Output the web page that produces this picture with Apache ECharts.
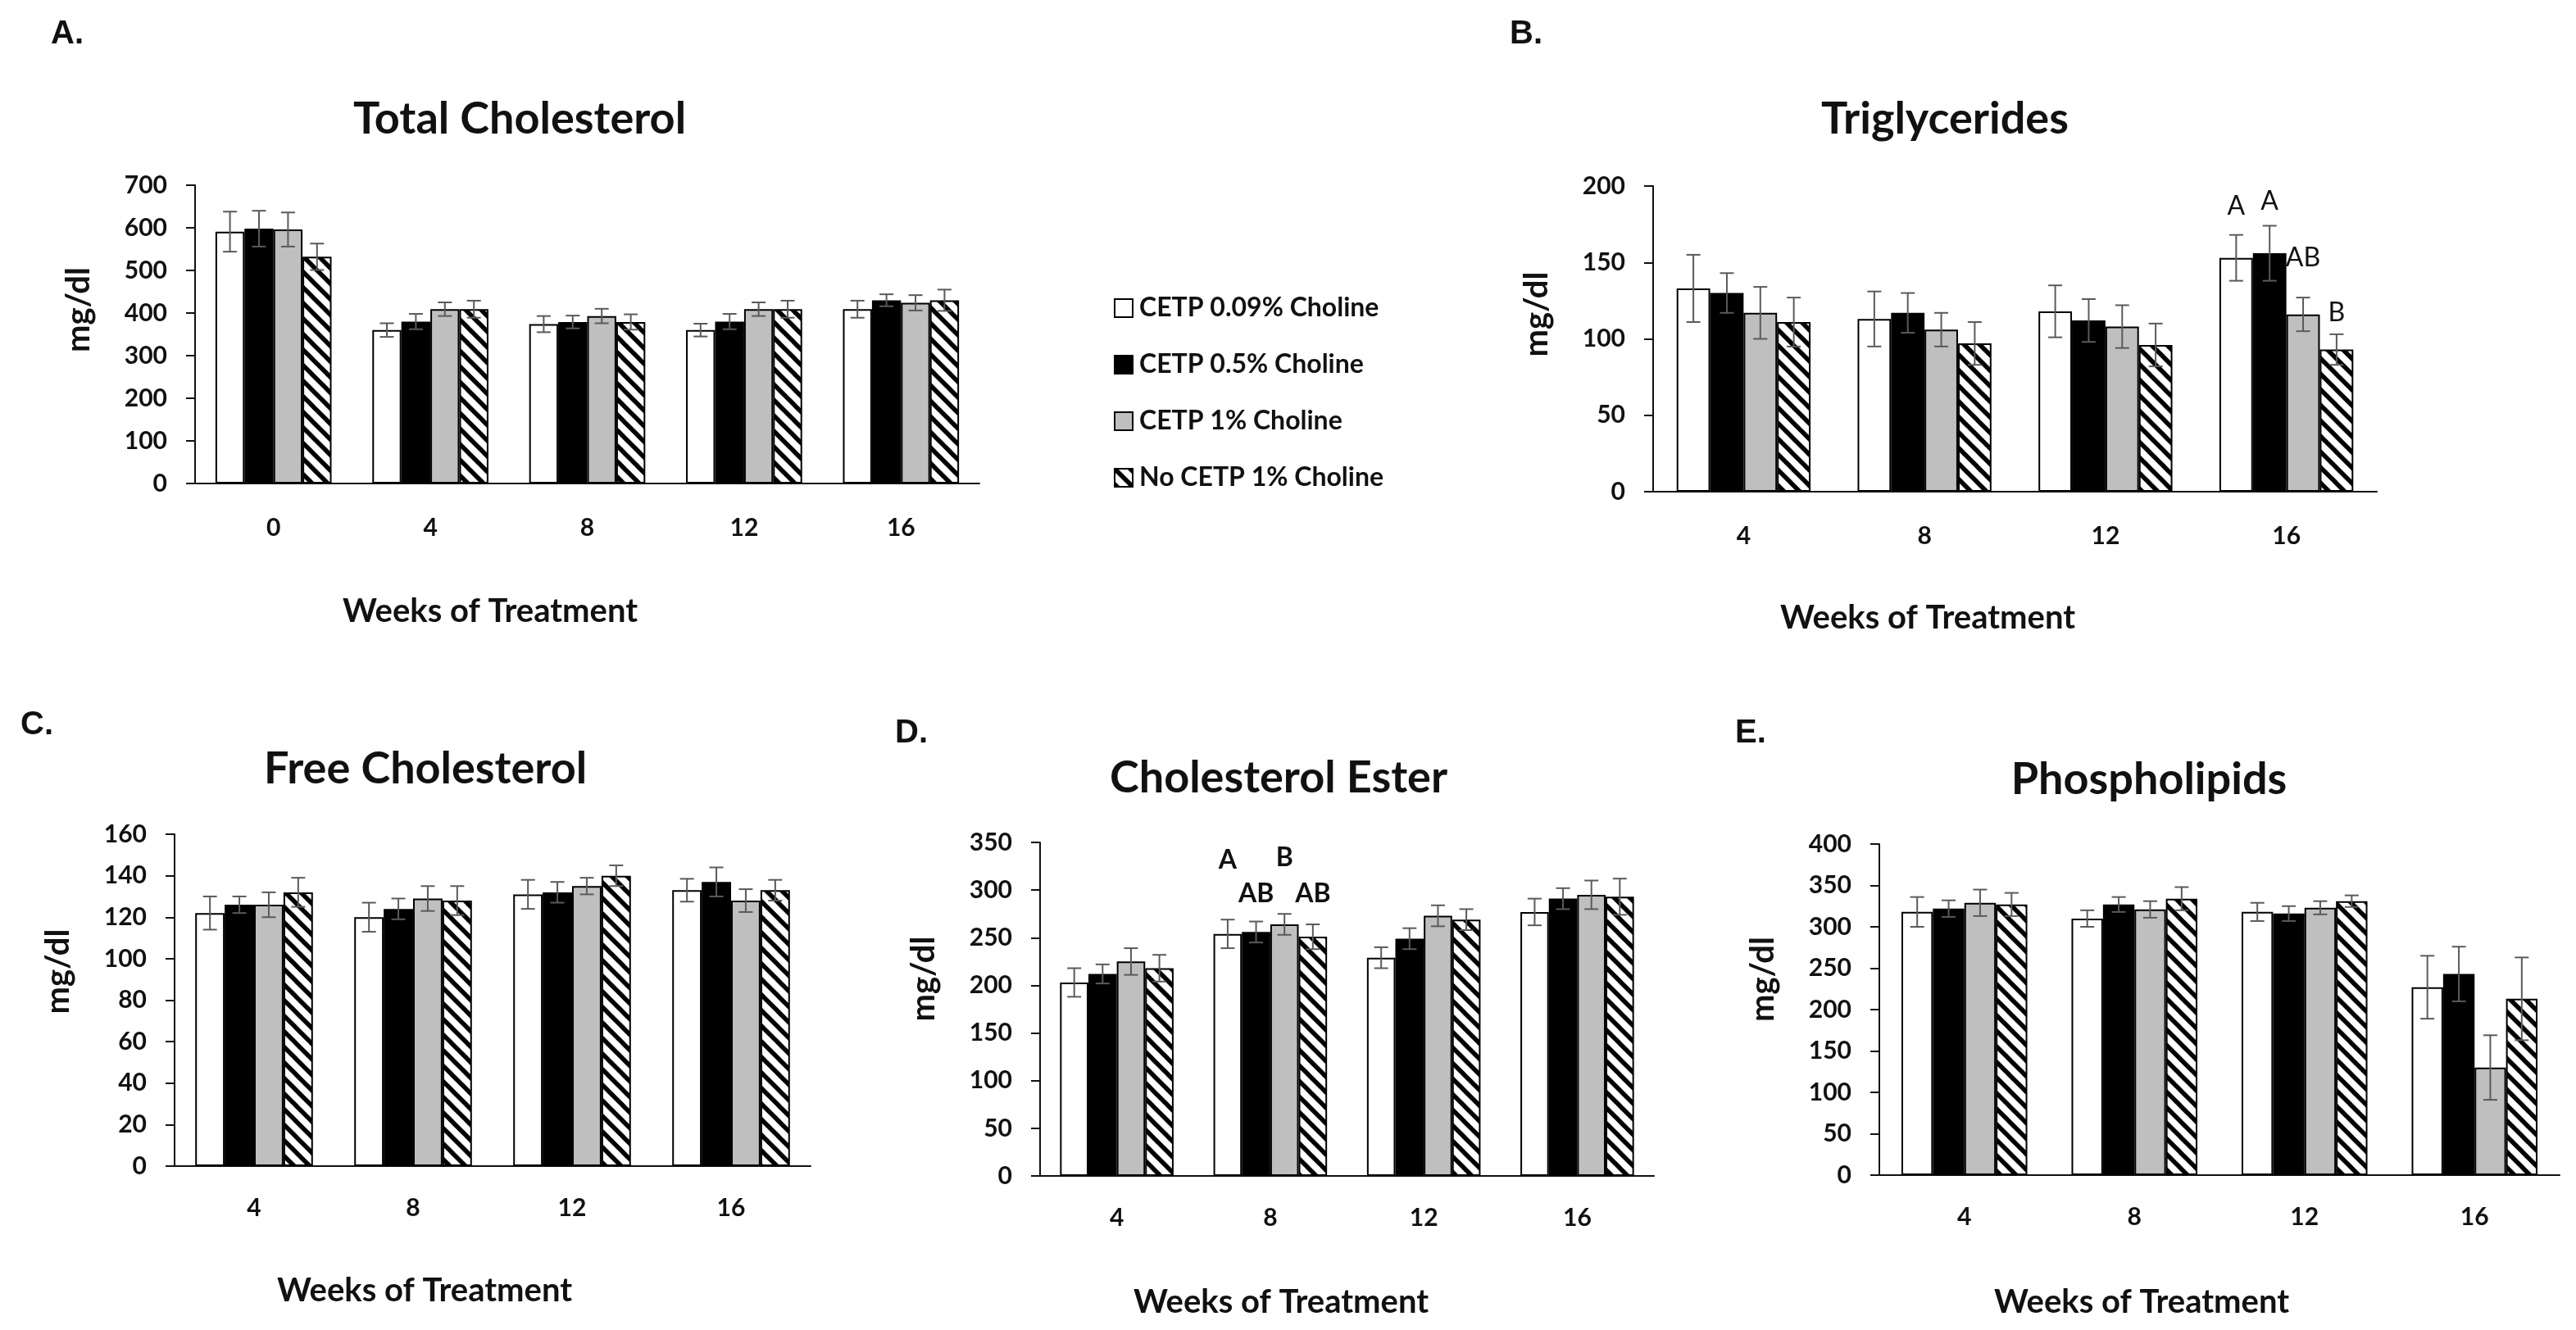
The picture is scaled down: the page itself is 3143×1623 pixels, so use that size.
<!DOCTYPE html>
<html>
<head>
<meta charset="utf-8">
<script src="https://cdn.jsdelivr.net/npm/echarts@6/dist/echarts.min.js"></script>
<style>
html,body{margin:0;padding:0;background:#fff;}
#chart{width:3143px;height:1623px;}
</style>
</head>
<body>
<div id="chart"></div>
<script>
// ---------- data ----------
const groups = ['CETP 0.09% Choline', 'CETP 0.5% Choline', 'CETP 1% Choline', 'No CETP 1% Choline'];
const weeks5 = ['0', '4', '8', '12', '16'];
const weeks4 = ['4', '8', '12', '16'];
const yTicksTC = [0, 700, 100];
const yTicksTG = [0, 200, 50];
const yTicksFC = [0, 160, 20];
const yTicksCE = [0, 350, 50];
const yTicksPL = [0, 400, 50];

// Total Cholesterol (weeks 0,4,8,12,16) - rows: groups
const tcMeans = [
  [591, 360, 374, 360, 409],
  [598, 380, 379, 380, 430],
  [596, 409, 393, 409, 424],
  [532, 409, 379, 409, 430]
];
const tcErrors = [
  [47, 16, 19, 15, 20],
  [42, 18, 15, 18, 14],
  [40, 16, 17, 16, 18],
  [31, 20, 18, 20, 25]
];
// Triglycerides
const tgMeans = [
  [133, 113, 118, 153],
  [130, 117, 112, 156],
  [117, 106, 108, 116],
  [111, 97, 96, 93]
];
const tgErrors = [
  [22, 18, 17, 15],
  [13, 13, 14, 18],
  [17, 11, 14, 11],
  [16, 14, 14, 10]
];
// Free Cholesterol
const fcMeans = [
  [122, 120, 131, 133],
  [126, 124, 132, 137],
  [126, 129, 135, 128],
  [132, 128, 140, 133]
];
const fcErrors = [
  [8, 7, 7, 5.5],
  [4, 5, 5, 7],
  [6, 6, 4, 5.5],
  [7, 7, 5, 5]
];
// Cholesterol Ester
const ceMeans = [
  [203, 254, 229, 277],
  [212, 256, 249, 291],
  [225, 264, 273, 295],
  [218, 251, 269, 293]
];
const ceErrors = [
  [15, 15, 11, 14],
  [10, 11, 11, 11],
  [14, 11, 11, 15],
  [14, 13, 11, 19]
];
// Phospholipids
const plMeans = [
  [318, 310, 318, 227],
  [322, 327, 316, 243],
  [329, 321, 323, 130],
  [327, 334, 331, 213]
];
const plErrors = [
  [18, 10, 11, 38],
  [10, 9, 9, 33],
  [16, 10, 8, 39],
  [14, 14, 7, 50]
];
// significance letters: [category index, group index, value level, text]
const tgLetters = [[3, 0, 187, 'A'], [3, 1, 190, 'A'], [3, 2, 153, 'AB'], [3, 3, 117, 'B']];
const ceLetters = [[1, 0, 331, 'A'], [1, 1, 296, 'AB'], [1, 2, 334, 'B'], [1, 3, 296, 'AB']];

// ---------- styling ----------
const FONT = 'Lato';
const GAP = 0.26;
const pc = document.createElement('canvas');
pc.width = 19; pc.height = 19;
const pg = pc.getContext('2d');
pg.fillStyle = '#fff'; pg.fillRect(0, 0, 19, 19);
pg.strokeStyle = '#000'; pg.lineWidth = 5.5;
for (let k = -1; k <= 1; k++) {
  pg.beginPath(); pg.moveTo(k * 19 - 3, -3); pg.lineTo(k * 19 + 22, 22); pg.stroke();
}
const fills = ['#ffffff', '#000000', '#bfbfbf', { image: pc, repeat: 'repeat' }];

const panels = [
  { key: 'A', title: 'Total Cholesterol', cats: weeks5, means: tcMeans, errs: tcErrors, ticks: yTicksTC,
    grid: { left: 238, top: 226, width: 957, height: 364 }, tpos: [634, 146], lpos: [62, 42], wpos: [598, 746], labMargin: 39, namePad: 60 },
  { key: 'B', title: 'Triglycerides', cats: weeks4, means: tgMeans, errs: tgErrors, ticks: yTicksTG,
    grid: { left: 2017, top: 227, width: 883, height: 373 }, tpos: [2373, 146], lpos: [1842, 42], wpos: [2352, 754], labMargin: 39, namePad: 60,
    letters: tgLetters, letterWeight: 'normal' },
  { key: 'C', title: 'Free Cholesterol', cats: weeks4, means: fcMeans, errs: fcErrors, ticks: yTicksFC,
    grid: { left: 213, top: 1018, width: 776, height: 405 }, tpos: [519, 939], lpos: [25, 885], wpos: [518, 1575], labMargin: 36, namePad: 70 },
  { key: 'D', title: 'Cholesterol Ester', cats: weeks4, means: ceMeans, errs: ceErrors, ticks: yTicksCE,
    grid: { left: 1269, top: 1028, width: 749, height: 407 }, tpos: [1560, 950], lpos: [1092, 895], wpos: [1563, 1589], labMargin: 36, namePad: 74,
    letters: ceLetters, letterWeight: 'bold' },
  { key: 'E', title: 'Phospholipids', cats: weeks4, means: plMeans, errs: plErrors, ticks: yTicksPL,
    grid: { left: 2293, top: 1030, width: 830, height: 404 }, tpos: [2622, 952], lpos: [2117, 895], wpos: [2613, 1589], labMargin: 36, namePad: 74 }
];

const option = {
  animation: false,
  backgroundColor: '#ffffff',
  textStyle: { fontFamily: FONT },
  title: [],
  legend: {
    data: groups.map(g => ({ name: g, icon: 'rect' })),
    orient: 'vertical', left: 1354, top: 355,
    itemWidth: 22, itemHeight: 22, itemGap: 37,
    selectedMode: false,
    textStyle: { fontFamily: FONT, fontWeight: 'bold', fontSize: 32, color: '#111', lineHeight: 30, padding: [0, 0, 0, 3] }
  },
  grid: [], xAxis: [], yAxis: [], series: []
};

panels.forEach((p, gi) => {
  option.grid.push(Object.assign({ outerBoundsMode: 'none', containLabel: false }, p.grid));
  option.xAxis.push({
    type: 'category', gridIndex: gi, data: p.cats,
    axisLine: { lineStyle: { color: '#111', width: 2 } },
    axisTick: { show: false },
    axisLabel: { margin: p.labMargin, fontFamily: FONT, fontWeight: 'bold', fontSize: 30, color: '#111' },
    splitLine: { show: false }
  });
  option.yAxis.push({
    type: 'value', gridIndex: gi, min: p.ticks[0], max: p.ticks[1], interval: p.ticks[2],
    name: 'mg/dl', nameLocation: 'middle', nameRotate: 90, nameGap: 122,
    nameTextStyle: { fontFamily: FONT, fontWeight: 'bold', fontSize: 40, color: '#111', padding: [0, 0, 0, p.namePad] },
    axisLine: { show: true, lineStyle: { color: '#111', width: 2 } },
    axisTick: { show: true, length: 11, lineStyle: { color: '#111', width: 2 } },
    axisLabel: { margin: 34, fontFamily: FONT, fontWeight: 'bold', fontSize: 30, color: '#111' },
    splitLine: { show: false }
  });
  option.title.push(
    { text: p.title, left: p.tpos[0], top: p.tpos[1], textAlign: 'center', textVerticalAlign: 'middle', padding: 0,
      textStyle: { fontFamily: FONT, fontWeight: 'bold', fontSize: 54, color: '#111' } },
    { text: p.key + '.', left: p.lpos[0], top: p.lpos[1], textAlign: 'left', textVerticalAlign: 'middle', padding: 0,
      textStyle: { fontFamily: 'Liberation Sans', fontWeight: 'bold', fontSize: 40, color: '#111' } },
    { text: 'Weeks of Treatment', left: p.wpos[0], top: p.wpos[1], textAlign: 'center', textVerticalAlign: 'middle', padding: 0,
      textStyle: { fontFamily: FONT, fontWeight: 'bold', fontSize: 40, color: '#111' } }
  );
  groups.forEach((g, k) => {
    option.series.push({
      type: 'bar', name: g, xAxisIndex: gi, yAxisIndex: gi,
      data: p.means[k], barGap: '0%', barCategoryGap: (GAP * 100) + '%',
      itemStyle: { color: fills[k], borderColor: '#000', borderWidth: 2 },
      emphasis: { disabled: true }, z: 2
    });
  });
  groups.forEach((g, k) => {
    option.series.push({
      type: 'custom', name: 'err-' + p.key + k, xAxisIndex: gi, yAxisIndex: gi, z: 5,
      data: p.means[k].map((m, i) => [i, m, p.errs[k][i]]),
      encode: { x: 0, y: 1 }, silent: true,
      renderItem: function (params, api) {
        const ci = api.value(0), v = api.value(1), e = api.value(2);
        const band = api.size([1, 0])[0];
        const bw = band * (1 - GAP) / 4;
        const c = api.coord([ci, v]);
        const x = c[0] + (k - 1.5) * bw;
        const y1 = api.coord([ci, v + e])[1];
        const y2 = api.coord([ci, v - e])[1];
        const cap = 8.5;
        const st = { stroke: '#5a5a5a', lineWidth: 2 };
        return { type: 'group', children: [
          { type: 'line', shape: { x1: x, y1: y1, x2: x, y2: y2 }, style: st },
          { type: 'line', shape: { x1: x - cap, y1: y1, x2: x + cap, y2: y1 }, style: st },
          { type: 'line', shape: { x1: x - cap, y1: y2, x2: x + cap, y2: y2 }, style: st }
        ] };
      }
    });
  });
  if (p.letters) {
    const L = p.letters;
    option.series.push({
      type: 'custom', name: 'letters-' + p.key, xAxisIndex: gi, yAxisIndex: gi, z: 6, silent: true,
      data: L.map(r => [r[0], r[1], r[2]]),
      encode: { x: 0, y: 2 },
      renderItem: function (params, api) {
        const ci = api.value(0), k = api.value(1), v = api.value(2);
        const band = api.size([1, 0])[0];
        const bw = band * (1 - GAP) / 4;
        const c = api.coord([ci, v]);
        return {
          type: 'text', x: c[0] + (k - 1.5) * bw, y: c[1],
          style: { text: L[params.dataIndex][3], fill: '#111',
            font: (p.letterWeight === 'bold' ? 'bold ' : '') + '32px ' + FONT,
            align: 'center', verticalAlign: 'middle', textAlign: 'center', textVerticalAlign: 'middle' }
        };
      }
    });
  }
});

const chart = echarts.init(document.getElementById('chart'), null, { renderer: 'canvas' });
chart.setOption(option);
</script>
</body>
</html>
